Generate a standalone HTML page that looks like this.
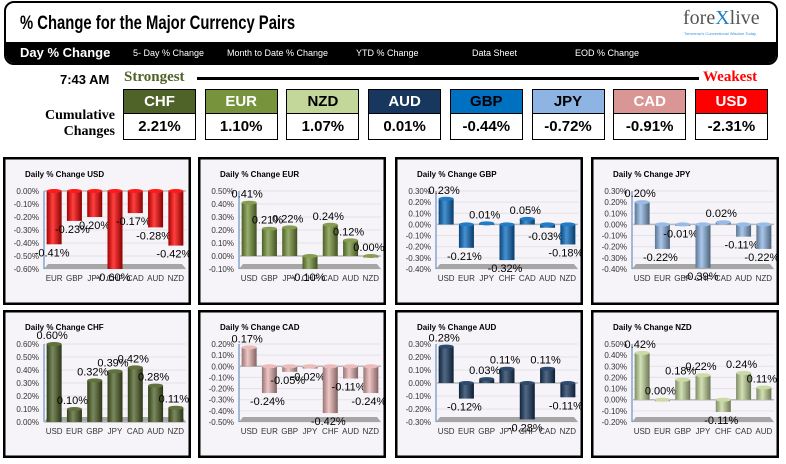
<!DOCTYPE html>
<html><head><meta charset="utf-8">
<style>
body{margin:0;width:786px;height:464px;background:#fff;position:relative;overflow:hidden;font-family:"Liberation Sans",sans-serif;}
.abs{position:absolute;}
.cond{font-family:"Liberation Sans Narrow","Liberation Sans",sans-serif;font-weight:bold;}
.hdr{position:absolute;top:89px;width:71px;height:24px;border:1px solid #000;border-bottom:none;text-align:center;line-height:24px;font-size:15px;color:#fff;}
.val{position:absolute;top:113px;width:71px;height:25px;border:1px solid #000;text-align:center;line-height:25px;font-size:15px;color:#000;background:#fff;}
.nav{position:absolute;top:45px;font-size:9px;color:#fff;}
</style></head><body>
<div class="abs" style="left:4px;top:1px;width:770px;height:60px;border:2px solid #000;border-radius:10px;overflow:hidden;background:#fff;">
  <div class="abs cond" style="left:14px;top:10px;font-size:19px;color:#000;transform:scaleX(0.78);transform-origin:left center;white-space:nowrap;">% Change for the Major Currency Pairs</div>
  <div class="abs" style="left:677px;top:4px;font-family:'Liberation Serif',serif;font-size:20px;color:#555;">fore<span style="color:#1f7fc4">X</span>live</div>
  <div class="abs" style="left:678px;top:28px;font-size:4px;color:#3a8fd0;">Tomorrow's Conventional Wisdom Today</div>
  <div class="abs" style="left:0;top:39px;width:772px;height:21px;background:#000;">
    <div class="abs cond" style="left:14px;top:3px;font-size:13px;color:#fff;">Day % Change</div>
    <div class="nav" style="left:127px;top:6px;">5- Day % Change</div>
    <div class="nav" style="left:221px;top:6px;">Month to Date % Change</div>
    <div class="nav" style="left:350px;top:6px;">YTD % Change</div>
    <div class="nav" style="left:466px;top:6px;">Data Sheet</div>
    <div class="nav" style="left:569px;top:6px;">EOD % Change</div>
  </div>
</div>
<div class="abs cond" style="left:60px;top:72px;font-size:13px;">7:43 AM</div>
<div class="abs" style="left:124px;top:69px;font-family:'Liberation Serif',serif;font-weight:bold;font-size:15px;color:#4f6228;">Strongest</div>
<div class="abs" style="left:197px;top:77px;width:502px;height:3px;background:#000;"></div>
<div class="abs" style="left:703px;top:69px;font-family:'Liberation Serif',serif;font-weight:bold;font-size:15px;color:#f00;">Weakest</div>
<div class="abs" style="left:20px;top:108px;width:95px;text-align:right;font-weight:bold;font-size:14px;line-height:16px;font-family:'Liberation Serif',serif;">Cumulative<br>Changes</div>
<div id="boxes"></div>
<svg id="charts" class="abs" style="left:0;top:0" width="786" height="464"></svg>
<script>
const boxCurrencies=["CHF","EUR","NZD","AUD","GBP","JPY","CAD","USD"];
const boxValues=["2.21%","1.10%","1.07%","0.01%","-0.44%","-0.72%","-0.91%","-2.31%"];
const boxColors=["#4f6228","#77933c","#c4d79b","#17375e","#0070c0","#8db4e2","#da9694","#ff0000"];
const boxText=["#fff","#fff","#000","#fff","#000","#000","#fff","#fff"];
const bx=document.getElementById('boxes');
boxCurrencies.forEach((c,i)=>{
  const x=123+i*81.7;
  const h=document.createElement('div');
  h.className='hdr cond';h.style.left=x+'px';h.style.background=boxColors[i];h.style.color=boxText[i];h.textContent=c;
  
  
  bx.appendChild(h);
  const v=document.createElement('div');
  v.className='val cond';v.style.left=x+'px';v.textContent=boxValues[i];
  
  
  bx.appendChild(v);
});

const usdCats=["EUR","GBP","JPY","CHF","CAD","AUD","NZD"];
const usdVals=[-0.41,-0.23,-0.20,-0.60,-0.17,-0.28,-0.42];
const eurCats=["USD","GBP","JPY","CHF","CAD","AUD","NZD"];
const eurVals=[0.41,0.21,0.22,-0.10,0.24,0.12,0.00];
const gbpCats=["USD","EUR","JPY","CHF","CAD","AUD","NZD"];
const gbpVals=[0.23,-0.21,0.01,-0.32,0.05,-0.03,-0.18];
const jpyCats=["USD","EUR","GBP","CHF","CAD","AUD","NZD"];
const jpyVals=[0.20,-0.22,-0.01,-0.39,0.02,-0.11,-0.22];
const chfCats=["USD","EUR","GBP","JPY","CAD","AUD","NZD"];
const chfVals=[0.60,0.10,0.32,0.39,0.42,0.28,0.11];
const cadCats=["USD","EUR","GBP","JPY","CHF","AUD","NZD"];
const cadVals=[0.17,-0.24,-0.05,-0.02,-0.42,-0.11,-0.24];
const audCats=["USD","EUR","GBP","JPY","CHF","CAD","NZD"];
const audVals=[0.28,-0.12,0.03,0.11,-0.28,0.11,-0.11];
const nzdCats=["USD","EUR","GBP","JPY","CHF","CAD","AUD"];
const nzdVals=[0.42,0.00,0.18,0.22,-0.11,0.24,0.11];
const axisMax=[0.00,0.50,0.30,0.30,0.60,0.20,0.30,0.50];
const axisMin=[-0.60,-0.10,-0.40,-0.40,0.00,-0.50,-0.30,-0.20];

const NS='http://www.w3.org/2000/svg';
const svg=document.getElementById('charts');
function mk(tag,attrs,parent){const e=document.createElementNS(NS,tag);for(const k in attrs)e.setAttribute(k,attrs[k]);(parent||svg).appendChild(e);return e;}
const defs=mk('defs',{});
function shade(hex,f){const n=parseInt(hex.slice(1),16);let r=n>>16,g=(n>>8)&255,b=n&255;
  const m=v=>Math.max(0,Math.min(255,Math.round(f>0?v+(255-v)*f:v*(1+f))));return `rgb(${m(r)},${m(g)},${m(b)})`;}

const panels=[
 {name:'usd',title:'Daily % Change USD',cats:usdCats,vals:usdVals,color:'#ff0000',x:3,y:157},
 {name:'eur',title:'Daily % Change EUR',cats:eurCats,vals:eurVals,color:'#77933c',x:198,y:157},
 {name:'gbp',title:'Daily % Change GBP',cats:gbpCats,vals:gbpVals,color:'#0a6cc0',x:395,y:157},
 {name:'jpy',title:'Daily % Change JPY',cats:jpyCats,vals:jpyVals,color:'#8db4e2',x:591,y:157},
 {name:'chf',title:'Daily % Change CHF',cats:chfCats,vals:chfVals,color:'#4f6228',x:3,y:310},
 {name:'cad',title:'Daily % Change CAD',cats:cadCats,vals:cadVals,color:'#eab4b3',x:198,y:310},
 {name:'aud',title:'Daily % Change AUD',cats:audCats,vals:audVals,color:'#17375e',x:395,y:310},
 {name:'nzd',title:'Daily % Change NZD',cats:nzdCats,vals:nzdVals,color:'#c4d79b',x:591,y:310},
];
panels.forEach((p,pi)=>{
  const W=188,H=148;
  const g=mk('g',{});
  
  
  mk('rect',{x:p.x+1.25,y:p.y+1.25,width:W-2.5,height:H-2.5,fill:'#f6f4f8',stroke:'#000','stroke-width':2.5},g);
  const t=mk('text',{x:p.x+22,y:p.y+20,'font-size':8,'font-weight':'bold','font-family':'Liberation Sans, sans-serif'},g);
  t.textContent=p.title;
  const top=p.y+34,bot=p.y+112,left=p.x+41,right=p.x+183;
  const mx=axisMax[pi],mn=axisMin[pi];
  const yS=v=>top+(mx-v)/(mx-mn)*(bot-top);
  const nT=Math.round((mx-mn)/0.1);
  for(let i=0;i<=nT;i++){
    const v=mx-i*0.1,yy=yS(v);
    mk('line',{x1:left,x2:right,y1:yy,y2:yy,stroke:'#e2e2e6','stroke-width':1},g);
    const tl=mk('text',{x:left-5,y:yy+3,'font-size':8,'text-anchor':'end',fill:'#333'},g);
    tl.textContent=v.toFixed(2).replace('-0.00','0.00')+'%';
  }
  mk('polygon',{points:`${left},${bot} ${right},${bot} ${right-4},${bot-5} ${left+4},${bot-5}`,fill:'#a6a6a6'},g);
  mk('line',{x1:left,x2:left,y1:top,y2:bot,stroke:'#4f81bd','stroke-width':1},g);
  const z=yS(0);
  mk('line',{x1:left,x2:right,y1:z,y2:z,stroke:'#b8b8b8','stroke-width':1.5},g);
  const gid='grad'+pi;
  const lg=mk('linearGradient',{id:gid,x1:0,x2:1,y1:0,y2:0},defs);
  mk('stop',{offset:'0','stop-color':shade(p.color,-0.35)},lg);
  mk('stop',{offset:'0.4','stop-color':shade(p.color,0.25)},lg);
  mk('stop',{offset:'1','stop-color':shade(p.color,-0.45)},lg);
  const step=(right-left)/p.cats.length;
  p.cats.forEach((c,i)=>{
    const cx=left+step*(i+0.5);
    const cl=mk('text',{x:cx,y:bot+12,'font-size':8,'text-anchor':'middle',fill:'#333'},g);
    cl.textContent=c;
  });
  p.vals.forEach((v,i)=>{
    const cx=left+step*(i+0.5),bw=15;
    const yv=yS(v);
    const y0=Math.min(z,yv),hh=Math.max(1.5,Math.abs(yv-z));
    const b=mk('rect',{x:cx-bw/2,y:y0,width:bw,height:hh,fill:`url(#${gid})`},g);
    
    
    mk('ellipse',{cx:cx,cy:v>=0?yv:z,rx:bw/2,ry:2,fill:shade(p.color,0.1)},g);
    const ly=v>=0?yv-5:yv+12;
    const lb=mk('text',{x:cx-2,y:ly,'font-size':11,'text-anchor':'middle',fill:'#000'},g);
    lb.textContent=v.toFixed(2)+'%';
  });
});
</script>
</body></html>
